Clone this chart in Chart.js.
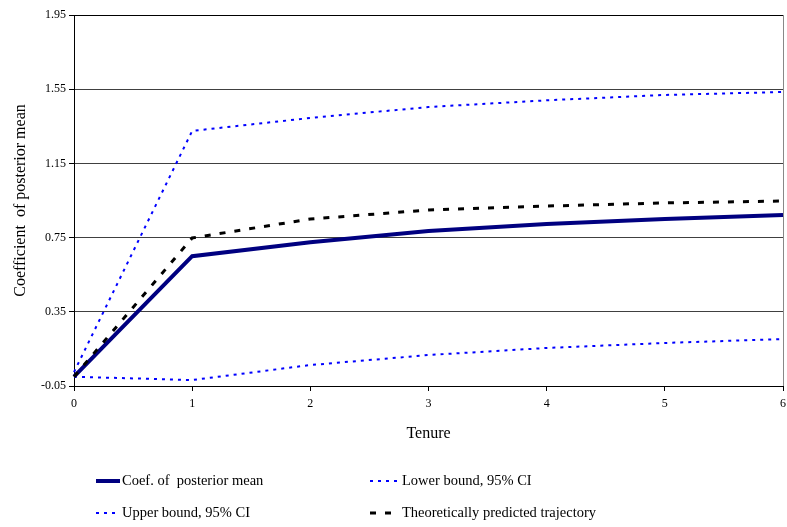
<!DOCTYPE html>
<html>
<head>
<meta charset="utf-8">
<script src="https://cdn.jsdelivr.net/npm/chart.js@4"></script>
<style>
  html, body { margin: 0; padding: 0; background: #fff; }
  #wrap { width: 787px; height: 527px; }
</style>
</head>
<body>
<div id="wrap"><canvas id="lineChart" width="787" height="527"></canvas></div>
<script>
const tenure = ['0', '1', '2', '3', '4', '5', '6'];
const posteriorMean = [0.00, 0.65, 0.725, 0.785, 0.823, 0.85, 0.872];
const lowerBound = [0.00, -0.018, 0.063, 0.117, 0.155, 0.182, 0.203];
const upperBound = [0.025, 1.325, 1.395, 1.454, 1.49, 1.519, 1.535];
const predicted = [0.00, 0.748, 0.85, 0.899, 0.92, 0.937, 0.947];
const yTicks = [-0.05, 0.35, 0.75, 1.15, 1.55, 1.95];

const serif = "'Liberation Serif', 'Times New Roman', serif";

// legend drawn by hand, two columns under the axis
const legendPlugin = {
    id: 'twoColLegend',
    afterDraw(chart) {
        const ctx = chart.ctx;
        const slots = [
            { ds: 0, x: 96, y: 481 },
            { ds: 1, x: 370, y: 481 },
            { ds: 2, x: 96, y: 513 },
            { ds: 3, x: 370, y: 513 }
        ];
        ctx.save();
        ctx.font = '14.5px ' + serif;
        ctx.textBaseline = 'middle';
        slots.forEach(s => {
            const d = chart.data.datasets[s.ds];
            const len = s.x < 200 ? 24 : 30;
            ctx.beginPath();
            ctx.strokeStyle = d.borderColor;
            ctx.lineWidth = d.borderWidth;
            ctx.setLineDash(d.borderDash || []);
            ctx.moveTo(s.x, s.y);
            ctx.lineTo(s.x + len, s.y);
            ctx.stroke();
            ctx.setLineDash([]);
            ctx.fillStyle = '#000';
            ctx.fillText(d.label, s.x + len + 2, s.y);
        });
        ctx.restore();
    }
};

var ctx = document.getElementById('lineChart').getContext('2d');
var myChart = new Chart(ctx, {
    type: 'line',
    data: {
        labels: tenure,
        datasets: [{
            label: 'Coef. of  posterior mean',
            data: posteriorMean,
            borderColor: '#000080',
            borderWidth: 4,
            order: 1
        }, {
            label: 'Lower bound, 95% CI',
            data: lowerBound,
            borderColor: '#0000ff',
            borderWidth: 2,
            borderDash: [3, 5],
            order: 2
        }, {
            label: 'Upper bound, 95% CI',
            data: upperBound,
            borderColor: '#0000ff',
            borderWidth: 2,
            borderDash: [3, 5],
            order: 2
        }, {
            label: 'Theoretically predicted trajectory',
            data: predicted,
            borderColor: '#000000',
            borderWidth: 3,
            borderDash: [6, 9],
            order: 0
        }]
    },
    options: {
        responsive: false,
        animation: false,
        elements: {
            point: { radius: 0 },
            line: { tension: 0, fill: false }
        },
        layout: { padding: { top: 15, right: 4, bottom: 84, left: 0 } },
        plugins: {
            legend: { display: false },
            tooltip: { enabled: false }
        },
        scales: {
            x: {
                offset: false,
                afterFit: (s) => { s.height = 57; s.paddingRight = 0; s.paddingLeft = 0; },
                grid: {
                    color: (c) => c.index === 6 ? '#888888' : 'rgba(0,0,0,0)',
                    tickColor: '#000',
                    tickLength: 5,
                    lineWidth: 1
                },
                border: { color: '#000', width: 1 },
                ticks: {
                    color: '#000',
                    font: { family: serif, size: 12 },
                    padding: 6,
                    maxRotation: 0
                },
                title: {
                    display: true,
                    text: 'Tenure',
                    color: '#000',
                    font: { family: serif, size: 16 },
                    padding: { bottom: 0 }
                }
            },
            y: {
                min: yTicks[0],
                max: yTicks[yTicks.length - 1],
                afterFit: (s) => { s.width = 74; },
                afterBuildTicks: (s) => { s.ticks = yTicks.map(v => ({ value: v })); },
                grid: {
                    color: (c) => c.index === 0 ? 'rgba(0,0,0,0)' : (c.index === 5 ? '#000' : '#404040'),
                    tickColor: '#000',
                    tickLength: 5,
                    lineWidth: 1
                },
                border: { color: '#000', width: 1 },
                ticks: {
                    color: '#000',
                    font: { family: serif, size: 12 },
                    padding: 3,
                    callback: (v) => Number(v).toFixed(2)
                },
                title: {
                    display: true,
                    text: 'Coefficient  of posterior mean',
                    color: '#000',
                    font: { family: serif, size: 16 },
                    padding: { top: 11 }
                }
            }
        }
    },
    plugins: [legendPlugin]
});
</script>
</body>
</html>
